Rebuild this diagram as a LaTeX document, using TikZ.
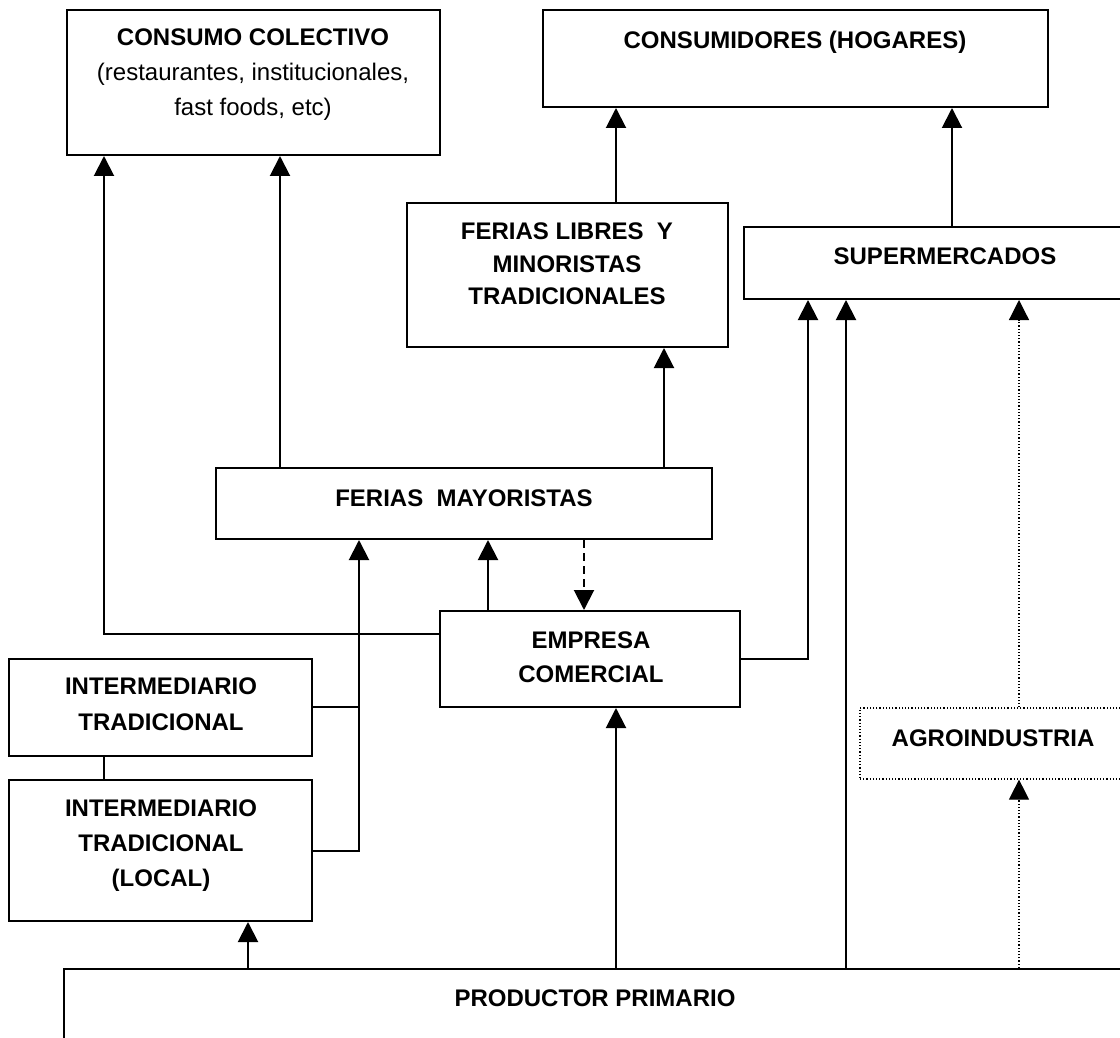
\documentclass[tikz,border=0pt]{standalone}
\usepackage{fontspec}
\setmainfont{Liberation Sans}
\usetikzlibrary{arrows.meta,fit,positioning}
\tikzset{
    >={Triangle[width=10pt,length=10pt]},
    box/.style={draw,line width=1pt,inner sep=0pt},
    boxdot/.style={draw,line width=.6pt,inner sep=0pt,dash pattern=on .6pt off 1pt},
    txt/.style={align=center,inner sep=0pt,font=\fontsize{12}{17}\selectfont\bfseries},
    link/.style={line width=1pt},
    arr/.style={line width=1pt,->},
    arrdash/.style={line width=1pt,->,dash pattern=on 4pt off 2.5pt},
    arrdot/.style={line width=.6pt,->,dash pattern=on .6pt off 1pt}
}
\begin{document}
\begin{tikzpicture}[x=.5pt,y=-.5pt]
        \useasboundingbox (0,0) rectangle (1120,1038);
        \clip (0,0) rectangle (1120,1038);

        % boxes
        \node[box,fit={(67,10) (440,155)}] (cc) {};
        \node[txt,font=\fontsize{12}{17.5}\selectfont] (cctxt) at (253,75) {\textbf{CONSUMO COLECTIVO}\\(restaurantes, institucionales,\\fast foods, etc)};
        \node[box,fit={(543,10) (1048,107)}] (ch) {};
        \node[txt] (chtxt) at (795,42) {CONSUMIDORES (HOGARES)};
        \node[box,fit={(407,203) (728,347)}] (fl) {};
        \node[txt,font=\fontsize{12}{16.3}\selectfont\bfseries] (fltxt) at (567,264) {FERIAS LIBRES\ \ Y\\MINORISTAS\\TRADICIONALES};
        \node[box,fit={(744,227) (1146,299)}] (sm) {};
        \node[txt] (smtxt) at (945,256) {SUPERMERCADOS};
        \node[box,fit={(216,468) (712,539)}] (fm) {};
        \node[txt] (fmtxt) at (464,498) {FERIAS\ \ MAYORISTAS};
        \node[box,fit={(440,611) (740,707)}] (ec) {};
        \node[txt] (ectxt) at (591,657) {EMPRESA\\COMERCIAL};
        \node[box,fit={(9,659) (312,756)}] (it) {};
        \node[txt,font=\fontsize{12}{18}\selectfont\bfseries] (ittxt) at (161,704) {INTERMEDIARIO\\TRADICIONAL};
        \node[box,fit={(9,780) (312,921)}] (il) {};
        \node[txt,font=\fontsize{12}{17.5}\selectfont\bfseries] (iltxt) at (161,846) {INTERMEDIARIO\\TRADICIONAL\\(LOCAL)};
        \node[boxdot,fit={(860,708) (1126,779)}] (ai) {};
        \node[txt] (aitxt) at (993,738) {AGROINDUSTRIA};
        \node[box,fit={(64,969) (1130,1070)}] (pp) {};
        \node[txt] (pptxt) at (595,998) {PRODUCTOR PRIMARIO};

        % connectors
        \draw[arr] (ec.west |- 0,634) -| (cc.south -| 104,0);
        \draw[arr] (fm.north -| 280,0) -- (cc.south -| 280,0);
        \draw[arr] (fm.north -| 664,0) -- (fl.south -| 664,0);
        \draw[arr] (fl.north -| 616,0) -- (ch.south -| 616,0);
        \draw[arr] (sm.north -| 952,0) -- (ch.south -| 952,0);
        \draw[arr] (ec.east |- 0,659) -| (sm.south -| 808,0);
        \draw[arr] (pp.north -| 846,0) -- (sm.south -| 846,0);
        \draw[arrdot] (ai.north -| 1019,0) -- (sm.south -| 1019,0);
        \draw[arrdot] (pp.north -| 1019,0) -- (ai.south -| 1019,0);
        \draw[arr] (pp.north -| 616,0) -- (ec.south -| 616,0);
        \draw[arr] (pp.north -| 248,0) -- (il.south -| 248,0);
        \draw[arr] (ec.north -| 488,0) -- (fm.south -| 488,0);
        \draw[arrdash] (fm.south -| 584,0) -- (ec.north -| 584,0);
        \draw[link] (it.east |- 0,707) -- (359,707);
        \draw[arr] (il.east |- 0,851) -| (fm.south -| 359,0);
        \draw[link] (it.south -| 104,0) -- (il.north -| 104,0);
    \end{tikzpicture}
\end{document}
